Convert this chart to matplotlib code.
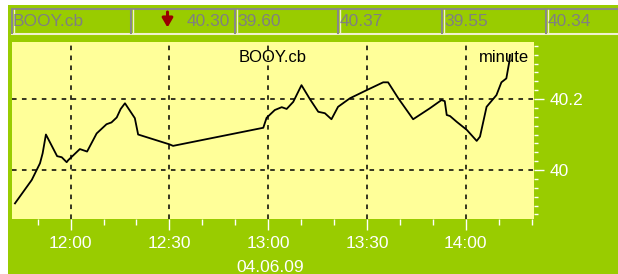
import numpy as np
import pandas as pd
import matplotlib
matplotlib.use("Agg")
import matplotlib.pyplot as plt
import matplotlib.dates as mdates
from matplotlib.ticker import MultipleLocator

plt.rcParams['font.family'] = ['Liberation Sans', 'DejaVu Sans']

# minutes after 12:00 on 04.06.09, and price
minutes = [-16.9, -11.8, -9.3, -8.5, -7.5, -4.1, -2.7, -1.2, -0.7, 2.8,
           5.0, 7.9, 10.9, 12.4, 14.0, 15.2, 16.5, 19.5, 20.5, 30.1,
           31.1, 58.5, 59.5, 62.0, 64.1, 65.6, 67.6, 70.1, 72.7, 75.2,
           77.2, 79.2, 81.2, 84.8, 89.9, 94.9, 96.4, 99.5, 104.0, 109.1,
           112.6, 113.6, 114.2, 115.2, 117.2, 120.3, 123.3, 124.3, 126.3, 129.3,
           130.8, 132.3, 133.2, 133.4]
prices = [39.906, 39.972, 40.019, 40.047, 40.100, 40.039, 40.036, 40.022, 40.028, 40.059,
          40.052, 40.103, 40.129, 40.134, 40.148, 40.172, 40.188, 40.146, 40.100, 40.072,
          40.068, 40.119, 40.147, 40.169, 40.177, 40.172, 40.192, 40.239, 40.199, 40.164,
          40.160, 40.143, 40.178, 40.202, 40.225, 40.247, 40.247, 40.202, 40.143, 40.174,
          40.197, 40.194, 40.155, 40.152, 40.136, 40.113, 40.082, 40.094, 40.178, 40.211,
          40.247, 40.258, 40.305, 40.324]

symbol = "BOOY.cb"
header_vals = ["40.30", "39.60", "40.37", "39.55", "40.34"]
date_label = "04.06.09"
period = "minute"

base = pd.Timestamp("2009-06-04 12:00")
times = [base + pd.Timedelta(minutes=m) for m in minutes]

green = '#99cc00'
yellow = '#ffff99'
W, H = 618, 274

fig = plt.figure(figsize=(W / 100, H / 100), dpi=100)
fig.patch.set_facecolor('white')

# background panel in pixel coordinates
bg = fig.add_axes([0, 0, 1, 1], zorder=0)
bg.set_xlim(0, W)
bg.set_ylim(H, 0)
bg.axis('off')
bg.add_patch(plt.Rectangle((8, 5), W - 8, H - 5, color=green, lw=0))

# header row
cells = [12, 131, 235, 338, 442, 546]
bg.plot([12, W], [9, 9], color='#888888', lw=1.5)
bg.plot([12, W], [33.5, 33.5], color='#f0f0d0', lw=1.5)
for cx in cells:
    bg.plot([cx, cx], [9, 33], color='#888888', lw=1.5)
    bg.plot([cx + 1.5, cx + 1.5], [10, 33], color='#f0f0d0', lw=1)
hdr_font = dict(color='#808080', fontsize=12.5, va='center')
bg.text(13, 21.5, symbol, ha='left', **hdr_font)
bg.text(230, 21.5, header_vals[0], ha='right', **hdr_font)
bg.annotate('', xy=(167.5, 27.5), xytext=(167.5, 12),
            arrowprops=dict(arrowstyle='-|>,head_length=0.6,head_width=0.35',
                            color='#990000', lw=2.2, mutation_scale=9,
                            shrinkA=0, shrinkB=0))
for cx, val in zip(cells[2:], header_vals[1:]):
    bg.text(cx + 2, 21.5, val, ha='left', **hdr_font)

# main chart
ax = fig.add_axes([12 / W, 1 - 219 / H, (534 - 12) / W, (219 - 41.5) / H], zorder=1)
ax.set_facecolor(yellow)
ax.plot(times, prices, color='black', lw=1.3)

ax.set_xlim(base + pd.Timedelta(minutes=-17.8), base + pd.Timedelta(minutes=140.7))
ax.set_ylim(39.862, 40.362)

ax.xaxis.set_major_locator(mdates.MinuteLocator(byminute=[0, 30]))
ax.xaxis.set_minor_locator(mdates.MinuteLocator(byminute=[10, 20, 40, 50]))
ax.xaxis.set_major_formatter(mdates.DateFormatter('%H:%M'))
ax.yaxis.set_major_locator(MultipleLocator(0.2))
ax.yaxis.set_minor_locator(MultipleLocator(0.025))
ax.yaxis.set_major_formatter(lambda v, p: f"{v:g}")
ax.yaxis.tick_right()

ax.grid(True, which='major', color='black', ls=(0, (3, 3.5)), lw=1.1)
for s in ax.spines.values():
    s.set_visible(False)

ax.tick_params(axis='x', which='major', length=8, width=1, color='white',
               labelcolor='white', labelsize=12.5, pad=4)
ax.tick_params(axis='x', which='minor', length=4.3, width=1, color='white')
ax.tick_params(axis='y', which='major', length=7, width=1, color='white',
               labelcolor='white', labelsize=12.5, pad=4)
ax.tick_params(axis='y', which='minor', length=3, width=1, color='white')

ax.text(0.5, 0.95, symbol, transform=ax.transAxes, ha='center', va='top',
        fontsize=12, color='black')
ax.text(0.99, 0.95, period, transform=ax.transAxes, ha='right', va='top',
        fontsize=12, color='black')

bg.text(270, 267, date_label, ha='center', va='center', color='white', fontsize=12.5)

fig.savefig('out.png', dpi=100, facecolor=fig.get_facecolor())
